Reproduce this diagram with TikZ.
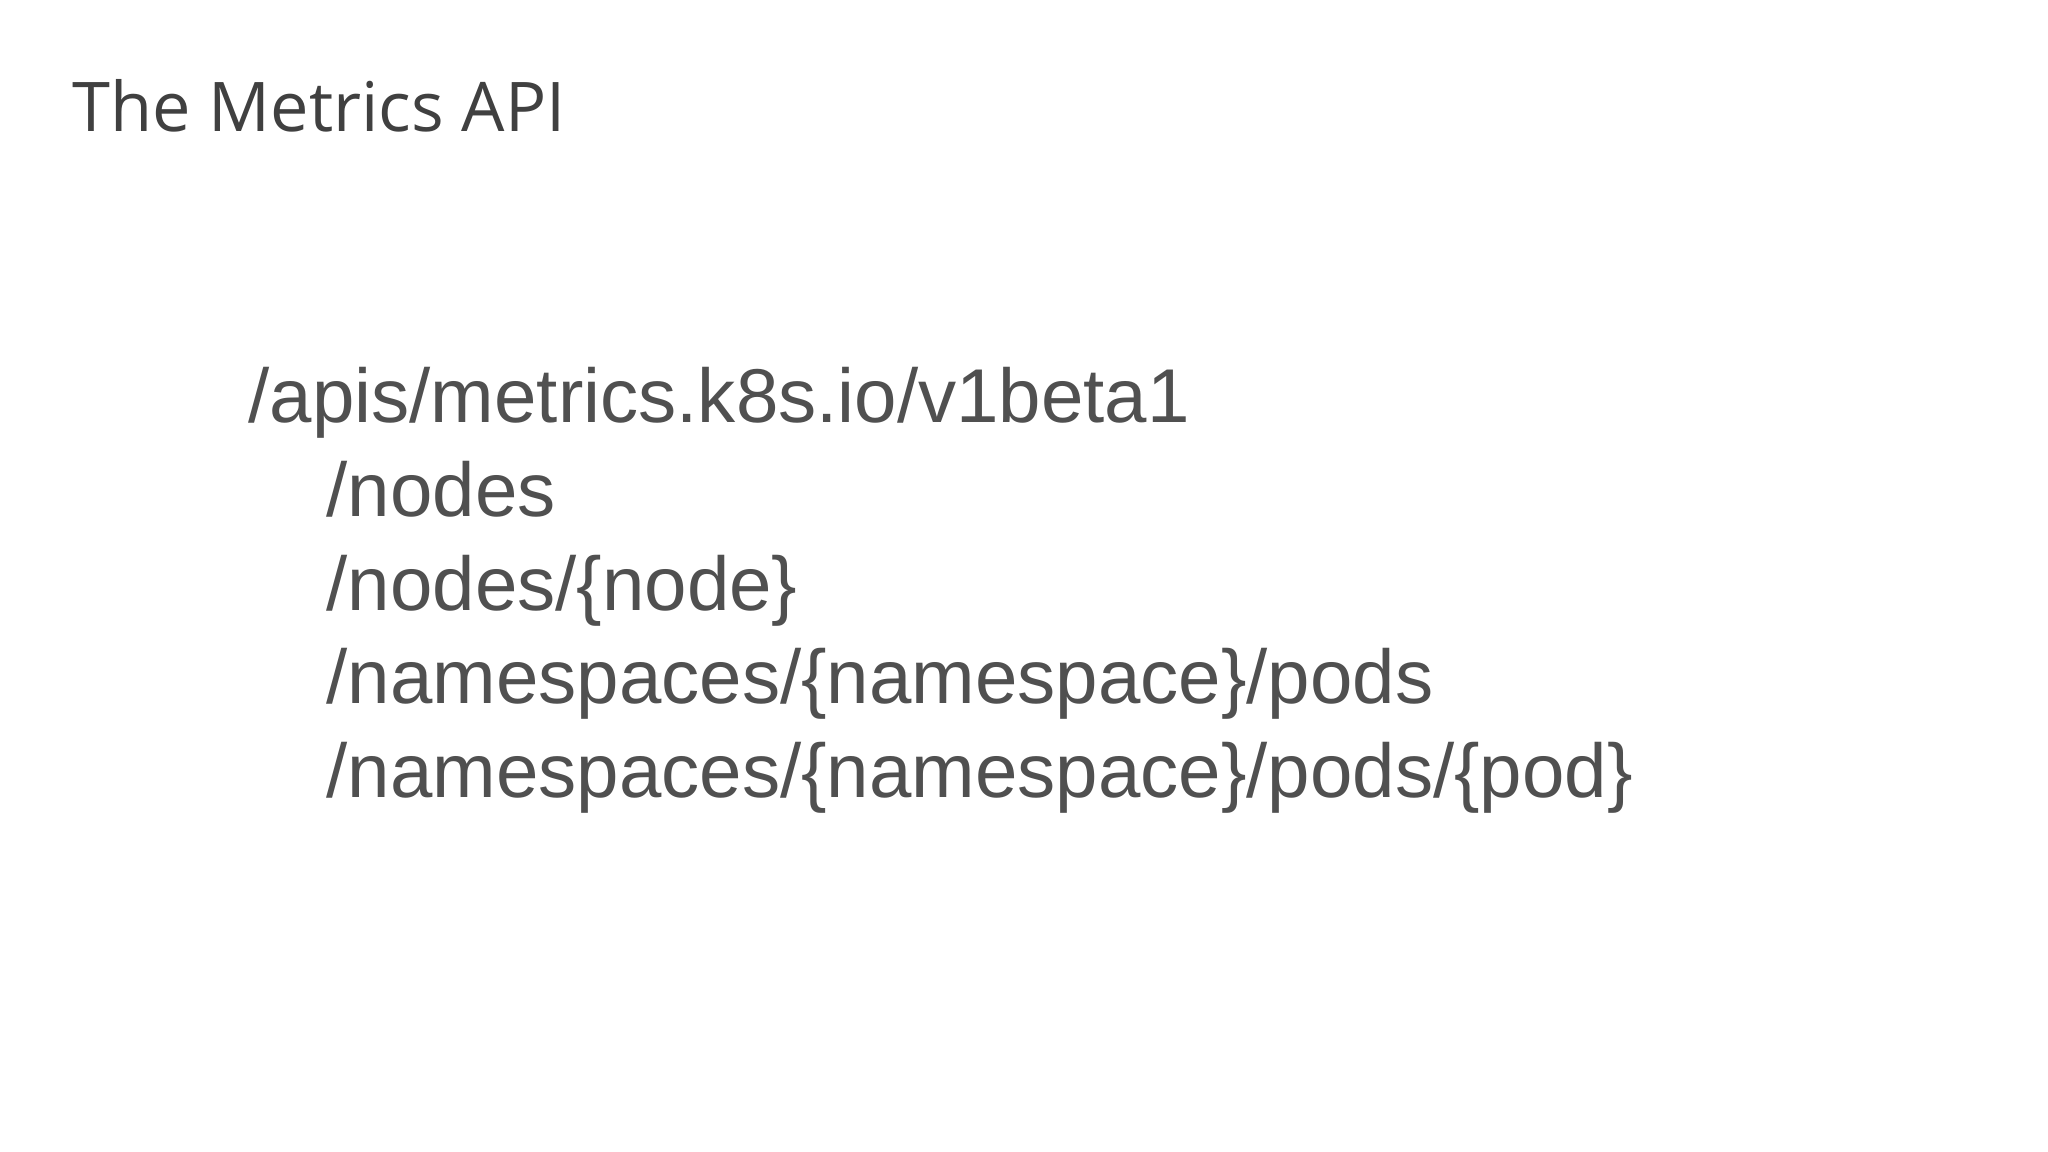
\documentclass[tikz,border=0pt]{standalone}
\usepackage{fontspec}
\setmainfont{Liberation Sans}
\newfontfamily\titlefont{Open Sans}
\definecolor{titlegray}{HTML}{404040}
\definecolor{textgray}{HTML}{505050}
\begin{document}
\begin{tikzpicture}[x=1cm,y=1cm,
  ttl/.style={anchor=base west,inner sep=0pt,text=titlegray,font=\titlefont\fontsize{19.5}{24}\selectfont},
  ln/.style={anchor=base west,inner sep=0pt,text=textgray,font=\fontsize{21.7}{26}\selectfont}]
\useasboundingbox (0,0) rectangle (20.48,-11.52);
\node[ttl] (title) at (0.72,-1.32) {The Metrics API};
\node[ln] (l1) at (2.48,-4.22) {/apis/metrics.k8s.io/v1beta1};
\node[ln] (l2) at (3.26,-5.16) {/nodes};
\node[ln] (l3) at (3.26,-6.10) {/nodes/\{node\}};
\node[ln] (l4) at (3.26,-7.04) {/namespaces/\{namespace\}/pods};
\node[ln] (l5) at (3.26,-7.98) {/namespaces/\{namespace\}/pods/\{pod\}};
\end{tikzpicture}
\end{document}
